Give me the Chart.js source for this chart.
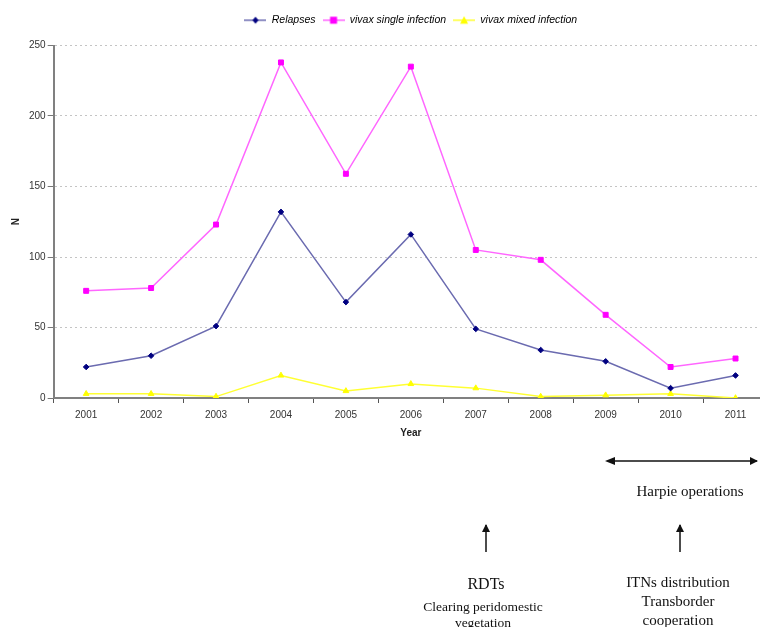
<!DOCTYPE html>
<html>
<head>
<meta charset="utf-8">
<script src="https://cdn.jsdelivr.net/npm/chart.js@4"></script>
<style>
  html, body { margin: 0; padding: 0; background: #fff; overflow: hidden; }
  #page { position: relative; width: 760px; height: 627px; overflow: hidden; }
  #chartBox { position: absolute; left: 0; top: 0; width: 773px; height: 439px; }
  .note { position: absolute; font-family: "Liberation Serif", "Times New Roman", serif; color: #111; text-align: center; white-space: nowrap; }
  svg { position: absolute; left: 0; top: 0; }
</style>
</head>
<body>
<div id="page">
  <div id="chartBox"><canvas id="malariaChart"></canvas></div>

  <!-- arrows below the chart -->
  <svg width="760" height="627">
    <defs>
      <marker id="head" markerWidth="8" markerHeight="8" refX="7" refY="4" orient="auto" markerUnits="userSpaceOnUse">
        <path d="M0,0 L8,4 L0,8 z" fill="#111"/>
      </marker>
    </defs>
    <line x1="612" y1="461" x2="757" y2="461" stroke="#111" stroke-width="1.5" marker-end="url(#head)"/>
    <path d="M605,461 L615,457 L615,465 z" fill="#111"/>
    <line x1="486" y1="552" x2="486" y2="525" stroke="#111" stroke-width="1.5" marker-end="url(#head)"/>
    <line x1="680" y1="552" x2="680" y2="525" stroke="#111" stroke-width="1.5" marker-end="url(#head)"/>
  </svg>

  <div class="note" style="left:610px; top:483px; width:160px; font-size:15px;">Harpie operations</div>
  <div class="note" style="left:406px; top:575px; width:160px; font-size:16px;">RDTs</div>
  <div class="note" style="left:403px; top:599px; width:160px; font-size:13.5px; line-height:16px;">Clearing peridomestic<br>vegetation</div>
  <div class="note" style="left:598px; top:573px; width:160px; font-size:15px; line-height:19px;">ITNs distribution<br>Transborder<br>cooperation</div>
</div>

<script>
// Data
const years = ['2001', '2002', '2003', '2004', '2005', '2006', '2007', '2008', '2009', '2010', '2011'];
const relapses = [22, 30, 51, 132, 68, 116, 49, 34, 26, 7, 16];
const vivaxSingle = [76, 78, 123, 238, 159, 235, 105, 98, 59, 22, 28];
const vivaxMixed = [3, 3, 1, 16, 5, 10, 7, 1, 2, 3, 0];

// small legend images: line with marker in the middle
function legendIcon(lineColor, markColor, shape) {
    const c = document.createElement('canvas');
    c.width = 22; c.height = 10;
    const g = c.getContext('2d');
    g.strokeStyle = lineColor;
    g.lineWidth = 1.5;
    g.beginPath(); g.moveTo(0, 5); g.lineTo(22, 5); g.stroke();
    g.fillStyle = markColor;
    g.beginPath();
    if (shape === 'diamond') {
        g.moveTo(11, 1.5); g.lineTo(14, 5); g.lineTo(11, 8.5); g.lineTo(8, 5);
    } else if (shape === 'square') {
        g.rect(7.5, 1.5, 7, 7);
    } else {
        g.moveTo(11, 1); g.lineTo(15, 8.5); g.lineTo(7, 8.5);
    }
    g.closePath(); g.fill();
    return c;
}

const icons = [
    legendIcon('#6b6bb0', '#000080', 'diamond'),
    legendIcon('#ff66ff', '#ff00ff', 'square'),
    legendIcon('#ffff33', '#ffff00', 'triangle')
];

// extra space between legend and plot
const legendGap = {
    id: 'legendGap',
    beforeInit(chart) {
        const fit = chart.legend.fit;
        chart.legend.fit = function() {
            fit.bind(chart.legend)();
            this.height += 10;
        };
    }
};

const chartData = {
    labels: years,
    datasets: [
        {
            label: 'Relapses',
            data: relapses,
            borderColor: '#6b6bb0',
            borderWidth: 1.5,
            pointStyle: 'rectRot',
            pointRadius: 2.8,
            pointBorderWidth: 1,
            pointBackgroundColor: '#000080',
            pointBorderColor: '#000080',
            tension: 0
        },
        {
            label: 'vivax single infection',
            data: vivaxSingle,
            borderColor: '#ff66ff',
            borderWidth: 1.5,
            pointStyle: 'rect',
            pointRadius: 3.5,
            pointBorderWidth: 1,
            pointBackgroundColor: '#ff00ff',
            pointBorderColor: '#ff00ff',
            tension: 0
        },
        {
            label: 'vivax mixed infection',
            data: vivaxMixed,
            borderColor: '#ffff33',
            borderWidth: 1.5,
            pointStyle: 'triangle',
            pointRadius: 3.3,
            pointBorderWidth: 1,
            pointBackgroundColor: '#ffff00',
            pointBorderColor: '#ffff00',
            tension: 0
        }
    ]
};

const chartConfig = {
    type: 'line',
    data: chartData,
    plugins: [legendGap],
    options: {
        responsive: true,
        maintainAspectRatio: false,
        animation: false,
        layout: { padding: { left: 10, right: 2, top: 8, bottom: 0 } },
        plugins: {
            legend: {
                display: true,
                position: 'top',
                fullSize: false,
                labels: {
                    usePointStyle: true,
                    pointStyleWidth: 22,
                    color: '#333',
                    font: { family: 'Liberation Sans, Arial', size: 10.5, style: 'italic' },
                    boxHeight: 10,
                    padding: 7,
                    generateLabels: function(chart) {
                        return chart.data.datasets.map(function(ds, i) {
                            return {
                                text: ds.label,
                                pointStyle: icons[i],
                                fillStyle: ds.borderColor,
                                strokeStyle: ds.borderColor,
                                lineWidth: 0,
                                hidden: false,
                                datasetIndex: i
                            };
                        });
                    }
                }
            },
            tooltip: { enabled: false }
        },
        scales: {
            y: {
                min: 0,
                max: 250,
                ticks: {
                    stepSize: 50,
                    color: '#333',
                    font: { family: 'Liberation Sans, Arial', size: 10 },
                    padding: 2
                },
                grid: {
                    color: '#c4c4c4',
                    tickColor: '#777',
                    tickLength: 6
                },
                border: { color: '#808080', width: 2, dash: [2, 3] },
                title: {
                    display: true,
                    text: 'N',
                    color: '#222',
                    font: { family: 'Liberation Sans, Arial', size: 10, weight: 'bold' },
                    padding: { top: 0, bottom: 5 }
                }
            },
            x: {
                offset: true,
                ticks: {
                    color: '#333',
                    font: { family: 'Liberation Sans, Arial', size: 10 },
                    padding: 6
                },
                grid: {
                    offset: true,
                    drawOnChartArea: false,
                    color: '#555',
                    tickLength: 5
                },
                border: { color: '#808080', width: 2 },
                title: {
                    display: true,
                    text: 'Year',
                    color: '#222',
                    font: { family: 'Liberation Sans, Arial', size: 10, weight: 'bold' },
                    padding: { top: 0, bottom: 0 }
                }
            }
        }
    }
};

const ctx = document.getElementById('malariaChart').getContext('2d');
new Chart(ctx, chartConfig);
</script>
</body>
</html>
